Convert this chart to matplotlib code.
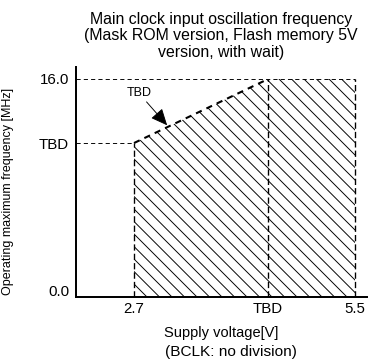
import matplotlib
matplotlib.use("Agg")
import matplotlib.pyplot as plt
from matplotlib.transforms import ScaledTranslation

plt.rcParams['font.family'] = ['Liberation Sans', 'DejaVu Sans']
plt.rcParams['lines.scale_dashes'] = False
plt.rcParams['hatch.linewidth'] = 0.9

# Operating range corners (TBD values placed where the sheet draws them)
v_min, v_tbd, v_max = 2.7, 4.4, 5.5
f_tbd, f_max = 11.3, 16.0

region_v = [v_min, v_min, v_tbd, v_max, v_max]
region_f = [0.0, f_tbd, f_max, f_max, 0.0]

xtick_vals = [v_min, v_tbd, v_max]
xtick_labels = ['2.7', 'TBD', '5.5']
ytick_vals = [0.0, f_tbd, f_max]
ytick_labels = ['0.0', 'TBD', '16.0']

# axis window
x_lo, x_hi = 1.965, 5.652
y_lo, y_hi = 0.0, 16.88

DPI = 75
W, H = 370, 362
fig = plt.figure(figsize=(W / DPI, H / DPI), dpi=DPI)
ax = fig.add_axes([76 / W, 65 / H, 291 / W, 230 / H])
ax.set_xlim(x_lo, x_hi)
ax.set_ylim(y_lo, y_hi)

# hatched operating area
ax.fill(region_v, region_f, facecolor='none', edgecolor='black',
        linewidth=0, hatch='\\\\')

thin = dict(color='black', lw=0.9, linestyle=(0, (4, 3)))
edge = dict(color='black', lw=1.3, linestyle=(0, (6, 3)))

ax.hlines(f_max, x_lo, v_max, **thin)
ax.hlines(f_tbd, x_lo, v_min, **thin)
ax.vlines(v_min, 0, f_tbd, **edge)
ax.vlines(v_tbd, 0, f_max, **edge)
ax.vlines(v_max, 0, f_max, **edge)
ax.plot([v_min, v_tbd], [f_tbd, f_max], color='black', lw=2.0,
        linestyle=(0, (6, 5)))

ax.annotate('TBD', xy=(3.12, 12.6), xytext=(2.76, 14.97),
            ha='center', va='center', fontsize=12,
            arrowprops=dict(arrowstyle='-|>,head_length=0.85,head_width=0.38',
                            mutation_scale=16, color='black', lw=0.9,
                            shrinkA=1, shrinkB=0))

ax.spines[['top', 'right']].set_visible(False)
ax.spines[['left', 'bottom']].set_linewidth(1.9)

ax.set_xticks(xtick_vals, xtick_labels)
ax.set_yticks(ytick_vals, ytick_labels)
ax.tick_params(axis='x', length=0, labelsize=14.4, pad=5)
ax.tick_params(axis='y', length=0, labelsize=14.4, pad=6.5)

# lift the zero label a little off the axis line
zero = ax.yaxis.get_major_ticks()[0].label1
zero.set_transform(zero.get_transform() +
                   ScaledTranslation(0, 7 / DPI, fig.dpi_scale_trans))

ax.set_xlabel('Supply voltage[V]', fontsize=14, va='center')
ax.xaxis.set_label_coords(0.5, -0.157)
ax.set_ylabel('Operating maximum frequency [MHz]', fontsize=12, va='center')
ax.yaxis.set_label_coords(-0.234, 0.459)

fig.text(221 / W, 1 - 12 / H,
         'Main clock input oscillation frequency\n'
         '(Mask ROM version, Flash memory 5V\n'
         'version, with wait)',
         ha='center', va='top', fontsize=15.2, linespacing=1.12)
fig.text(231 / W, 1 - 352 / H, '(BCLK: no division)',
         ha='center', va='center', fontsize=14.8)

fig.savefig('out.png', dpi=DPI)
